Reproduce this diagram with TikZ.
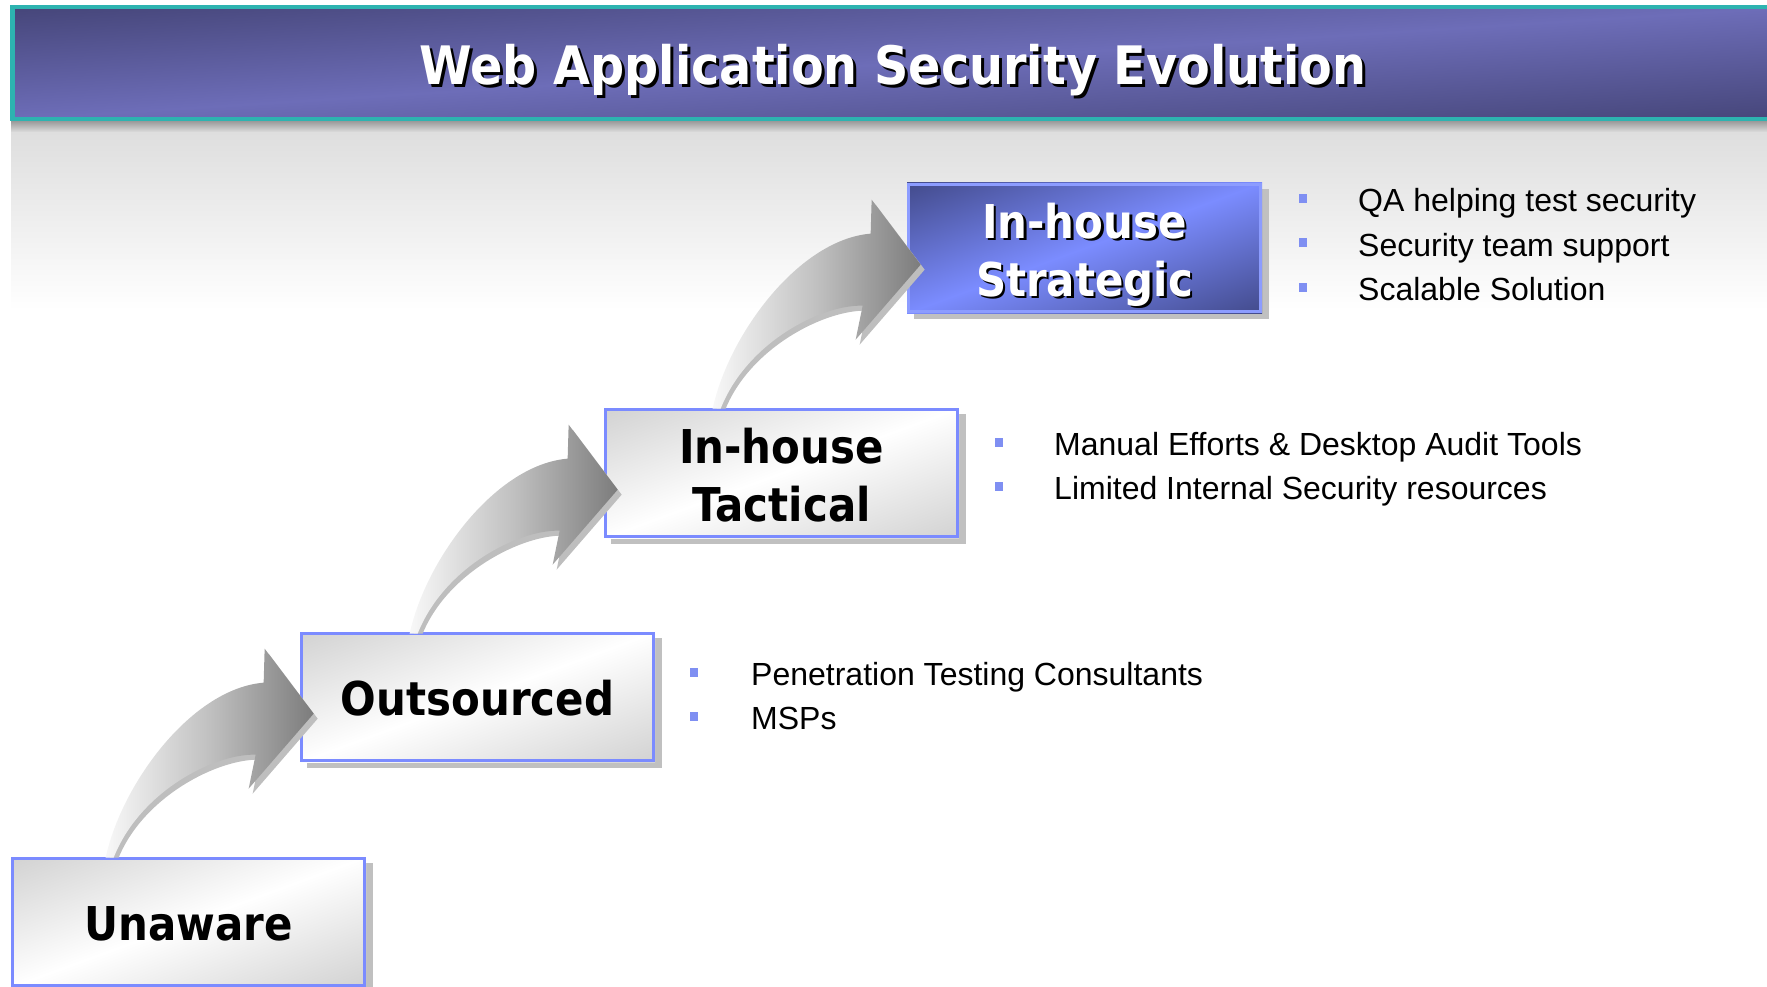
\documentclass[tikz,border=0pt]{standalone}
\usepackage{fontspec}
\newfontfamily\headfont{DejaVu Sans}[FakeStretch=0.9]
\newfontfamily\bulletfont{Liberation Sans}
\newcommand\lblfont{\headfont\bfseries\fontsize{46.6}{58}\selectfont}
\newcommand\titlefont{\headfont\bfseries\fontsize{53}{60}\selectfont}

\definecolor{bandteal}{HTML}{2DB3B0}
\definecolor{banddark}{HTML}{46467A}
\definecolor{bandlight}{HTML}{6D6DB8}
\definecolor{backgrey}{HTML}{DCDCDC}
\definecolor{headshadow}{HTML}{9A9A9A}
\definecolor{boxborder}{HTML}{7B8BFF}
\definecolor{boxgrey}{HTML}{D2D2D2}
\definecolor{stratdark}{HTML}{434B8C}
\definecolor{stratlight}{HTML}{7B8CFF}
\definecolor{stratborder}{HTML}{8C9CFF}
\definecolor{shadowgrey}{HTML}{C0C0C0}
\definecolor{bulletblue}{HTML}{7F8FF2}
\definecolor{arrowlight}{HTML}{F8F8F8}
\definecolor{arrowmid}{HTML}{C0C0C0}
\definecolor{arrowdark}{HTML}{7C7C7C}
\definecolor{arrowshadow}{HTML}{BEBEBE}

% diagonal gradient filling the rectangle with top left corner (#1,#2),
% width #3 and height #4: dark (#5) in two opposite corners, light (#6) along
% the other diagonal
\newcommand\diagfill[6]{%
  \begin{scope}
    \clip (#1,#2) rectangle ++(#3,#4);
    \begin{scope}[transform canvas={shift={(#1,#2)}, xscale=#3/100, yscale=#4/100}]
      \shade[top color=#5, bottom color=#5, middle color=#6, shading angle=45]
        (-20.7,-20.7) rectangle (120.7,120.7);
    \end{scope}
  \end{scope}}

% shadow and gradient of one stage box, outer top left corner at (#1,#2)
\newcommand\stagefill[4]{%
  \fill[shadowgrey] (#1+7,#2+6) rectangle ++(355,130);
  \diagfill{#1}{#2}{355}{130}{#3}{#4}}

\tikzset{
  % curved step arrow, placed at the north west corner of the box it points to
  steparrow/.pic={
    \fill[arrowshadow] (-192,224) .. controls (-176,155) and (-106,60) .. (-34,54)
      -- (-33,20) -- (16,85) -- (-49,160) -- (-42,126)
      .. controls (-84,125) and (-158,163) .. (-183,224) -- cycle;
    \shade[left color=arrowlight, right color=arrowdark, middle color=arrowmid]
      (-196,224) .. controls (-180,150) and (-110,55) .. (-38,49)
      -- (-37,15) -- (12,80) -- (-53,155) -- (-46,121)
      .. controls (-88,120) and (-162,158) .. (-188,224) -- cycle;
  }
}

\begin{document}
\begin{tikzpicture}[x=1pt,y=-1pt,
  stageframe/.style={rectangle, line width=3.3pt, minimum width=351.7pt, minimum height=126.7pt,
    inner sep=0pt, outer sep=0pt, anchor=north west, font=\lblfont, align=center},
  greybox/.style={stageframe, draw=boxborder},
  stratbox/.style={stageframe, draw=stratborder},
  oneline/.style={text height=37pt, text depth=0pt},
  twoline/.style={text height=96pt, text depth=0pt},
  lbl/.style={font=\lblfont, inner sep=0pt, align=center, twoline},
  titletxt/.style={font=\titlefont, anchor=base, inner sep=0pt},
  bullettext/.style={font=\bulletfont\fontsize{32}{44}\selectfont, anchor=base west, inner sep=0pt},
  bulletsq/.style={fill=bulletblue},
]
\useasboundingbox (0,0) rectangle (1767,987);
\clip (0,0) rectangle (1767,987);

% backdrop under the title band
\shade[top color=backgrey, bottom color=white] (11,121) rectangle (1767,310);
\shade[top color=headshadow, bottom color=backgrey] (11,121) rectangle (1767,132);

% title band
\diagfill{12.5}{7}{1777.5}{112}{banddark}{bandlight}
\draw[bandteal, line width=4.3pt] (1790,7) -- (12.5,7) -- (12.5,119) -- (1790,119);
\node[titletxt, text=black] (titleshade) at (896,88) {Web Application Security Evolution};
\node[titletxt, text=white] (title) at (893,85) {Web Application Security Evolution};

% stages
\stagefill{11}{857}{boxgrey}{white}
\node[greybox, oneline] (unaware) at (12.65,858.65) {Unaware};
\stagefill{300}{632}{boxgrey}{white}
\node[greybox, oneline] (outsourced) at (301.65,633.65) {Outsourced};
\stagefill{604}{408}{boxgrey}{white}
\node[greybox, twoline] (tactical) at (605.65,409.65) {In-house\\Tactical};
\stagefill{907}{183}{stratdark}{stratlight}
\node[stratbox] (strategic) at (908.65,184.65) {};
\node[lbl, text=black] (stratshade) at ([shift={(2.5,2.5)}]strategic.center) {In-house\\Strategic};
\node[lbl, text=white] (stratlabel) at (strategic.center) {In-house\\Strategic};

% arrows between stages
\pic at (outsourced.north west) {steparrow};
\pic at (tactical.north west) {steparrow};
\pic at (strategic.north west) {steparrow};

% bullet lists
\fill[bulletblue] (1299,194.5) rectangle ++(8,9);
\fill[bulletblue] (1299,238.5) rectangle ++(8,9);
\fill[bulletblue] (1299,282.5) rectangle ++(8,9);
\node[bullettext] (qa) at (1358,212) {QA helping test security};
\node[bullettext] (team) at (1358,256) {Security team support};
\node[bullettext] (scal) at (1358,300) {Scalable Solution};

\fill[bulletblue] (995,437.5) rectangle ++(8,9);
\fill[bulletblue] (995,481.5) rectangle ++(8,9);
\node[bullettext] (manual) at (1054,455) {Manual Efforts \& Desktop Audit Tools};
\node[bullettext] (limited) at (1054,499) {Limited Internal Security resources};

\fill[bulletblue] (690,667.5) rectangle ++(8,9);
\fill[bulletblue] (690,711.5) rectangle ++(8,9);
\node[bullettext] (pen) at (751,685) {Penetration Testing Consultants};
\node[bullettext] (msp) at (751,729) {MSPs};
\end{tikzpicture}
\end{document}
